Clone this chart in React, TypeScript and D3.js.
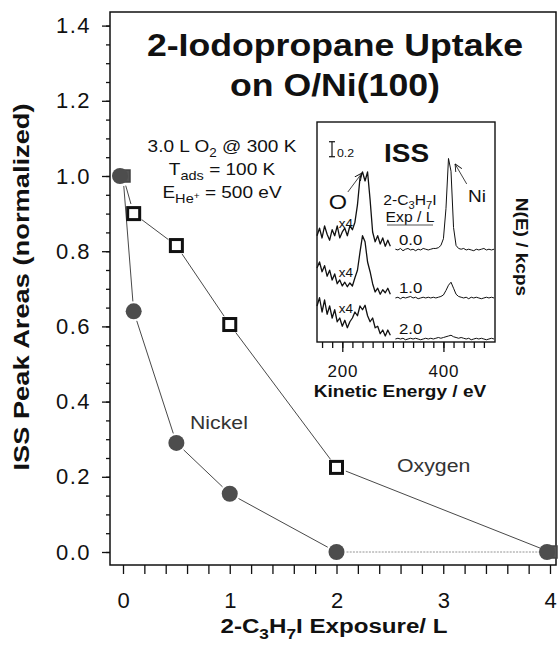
import React, { useEffect, useRef } from "react";
import * as d3 from "d3";

// main panel: normalized ISS peak areas vs 2-C3H7I exposure (L)
const exposure = [0, 0.1, 0.5, 1, 2, 4];
const oxygenArea = [1.0, 0.9, 0.815, 0.605, 0.225, 0.0];
const nickelArea = [1.0, 0.64, 0.29, 0.155, 0.0, 0.0];
const yMajor = [0, 0.2, 0.4, 0.6, 0.8, 1.0, 1.2, 1.4];
const xMajor = [0, 1, 2, 3, 4];

// inset: ISS spectra, N(E) in kcps (low-KE part shown x4)
const expLabels = ["0.0", "1.0", "2.0"];
const traceOffsets = [1.227, 0.587, 0.04];
const keLow = d3.range(150, 300, 5);
const keHigh = d3.range(305, 505, 5);
const lowTraces = [
  [0.19, 0.29, 0.16, 0.32, 0.21, 0.13, 0.27, 0.19, 0.32, 0.16, 0.24, 0.29, 0.19, 0.32, 0.27,
   0.37, 0.6, 0.96, 1.04, 0.92, 1.04, 0.67, 0.24, 0.11, 0.19, 0.08, 0.16, 0.05, 0.13, 0.05],
  [0.4, 0.48, 0.35, 0.43, 0.29, 0.37, 0.24, 0.32, 0.19, 0.24, 0.16, 0.21, 0.15, 0.2, 0.16,
   0.27, 0.37, 0.61, 0.83, 0.75, 0.48, 0.35, 0.19, 0.08, 0.13, 0.05, 0.11, 0.07, 0.13, 0.05],
  [0.44, 0.55, 0.36, 0.52, 0.33, 0.44, 0.28, 0.39, 0.23, 0.28, 0.17, 0.25, 0.15, 0.23, 0.28,
   0.36, 0.31, 0.44, 0.39, 0.45, 0.31, 0.23, 0.28, 0.15, 0.17, 0.07, 0.12, 0.04, 0.12, 0.05],
];
const highTraces = [
  [0.01, 0.0, 0.02, -0.01, 0.01, 0.02, 0.0, 0.01, -0.01, 0.01, 0.0, 0.02, 0.01, 0.0, 0.01,
   0.02, 0.02, 0.03, 0.06, 0.15, 0.55, 1.22, 1.05, 0.3, 0.06, 0.02, 0.01, 0.02, 0.0, 0.01,
   0.0, -0.01, 0.01, 0.0, 0.01, 0.02, 0.0, 0.01, 0.0, 0.01],
  [0.0, 0.01, -0.01, 0.01, 0.0, 0.01, 0.02, 0.0, 0.01, -0.01, 0.0, 0.01, 0.0, 0.01, 0.0,
   0.01, 0.0, 0.01, 0.02, 0.04, 0.1, 0.17, 0.21, 0.13, 0.05, 0.02, 0.01, 0.0, 0.01, -0.01,
   0.01, 0.0, 0.01, 0.0, -0.01, 0.0, 0.01, 0.0, 0.01, 0.0],
  [0.0, 0.01, 0.0, 0.01, -0.01, 0.0, 0.01, 0.0, 0.01, 0.0, -0.01, 0.0, 0.01, 0.0, 0.01,
   0.0, 0.01, 0.02, 0.01, 0.02, 0.03, 0.04, 0.05, 0.03, 0.02, 0.01, 0.02, 0.01, 0.0, 0.01,
   -0.01, 0.0, 0.01, 0.0, 0.01, 0.0, -0.01, 0.0, 0.01, 0.0],
];
const scaleBar = [2.47, 2.67];

const FONT = "'Liberation Sans', Arial, Helvetica, sans-serif";
const INK = "#111";

type Part = string | { t: string; dy?: number; size?: number };

function addText(g: any, x: number, y: number, parts: Part[], o: any) {
  const t = g
    .append("text")
    .attr("transform", `translate(${x},${y}) rotate(${o.rotate || 0}) scale(${o.sx ?? 1.12},1)`)
    .attr("text-anchor", o.anchor || "start")
    .attr("font-family", FONT)
    .attr("font-size", o.size)
    .attr("font-weight", o.weight || "normal")
    .attr("fill", o.fill || INK);
  let shift = 0;
  parts.forEach((p) => {
    const s = typeof p === "string" ? { t: p } : p;
    const dy = s.dy ?? 0;
    t.append("tspan").attr("dy", dy - shift).attr("font-size", s.size ?? o.size).text(s.t);
    shift = dy;
  });
  return t;
}

function gapLine(g: any, a: number[], b: number[], gap: number) {
  const dx = b[0] - a[0];
  const dy = b[1] - a[1];
  const len = Math.hypot(dx, dy);
  const ux = dx / len;
  const uy = dy / len;
  return g
    .append("line")
    .attr("x1", a[0] + ux * gap)
    .attr("y1", a[1] + uy * gap)
    .attr("x2", b[0] - ux * gap)
    .attr("y2", b[1] - uy * gap);
}

export default function App() {
  const svgRef = useRef<SVGSVGElement>(null);

  useEffect(() => {
    const svg = d3.select(svgRef.current);
    svg.selectAll("*").remove();

    const x = d3.scaleLinear().domain([0, 4]).range([123, 550]);
    const y = d3.scaleLinear().domain([0, 1.4]).range([552, 552 - 1.4 * 376]);
    const left = 110;
    const right = 556;
    const top = 12;
    const bottom = 565;

    // frame
    svg
      .append("rect")
      .attr("x", left)
      .attr("y", top)
      .attr("width", right - left)
      .attr("height", bottom - top)
      .attr("fill", "none")
      .attr("stroke", INK)
      .attr("stroke-width", 1.5);

    // y axis
    const yAxis = svg.append("g").attr("transform", `translate(${left},0)`);
    yAxis.call(
      d3.axisLeft(y).tickValues(yMajor).tickSize(8).tickPadding(11).tickFormat(d3.format(".1f")) as any,
    );
    yAxis
      .append("g")
      .call(
        d3
          .axisLeft(y)
          .tickValues(d3.range(0, 29).map((i) => i * 0.05))
          .tickSize(4)
          .tickFormat(() => "") as any,
      );
    yAxis.selectAll(".domain").remove();
    yAxis.selectAll("line").attr("stroke", INK).attr("stroke-width", 1.3);
    yAxis
      .selectAll("text")
      .attr("font-family", FONT)
      .attr("font-size", 22)
      .attr("fill", INK)
      .style("letter-spacing", "1.5px");

    // x axis
    const xAxis = svg.append("g").attr("transform", `translate(0,${bottom})`);
    xAxis.call(
      d3
        .axisBottom(x)
        .tickValues(d3.range(0, 21).map((i) => i * 0.2))
        .tickSize(9)
        .tickPadding(18)
        .tickFormat((d: any) => {
          const k = xMajor.find((v) => Math.abs(v - d) < 1e-6);
          return k === undefined ? "" : String(k);
        }) as any,
    );
    xAxis.selectAll(".domain").remove();
    xAxis.selectAll("line").attr("stroke", INK).attr("stroke-width", 1.3);
    xAxis
      .selectAll("text")
      .attr("font-family", FONT)
      .attr("font-size", 22)
      .attr("fill", INK);

    // axis titles
    addText(svg, 29, 287, ["ISS Peak Areas  (normalized)"], {
      size: 22,
      weight: "bold",
      anchor: "middle",
      rotate: -90,
      sx: 1.24,
    });
    addText(
      svg,
      334,
      633,
      ["2-C", { t: "3", dy: 6, size: 15 }, "H", { t: "7", dy: 6, size: 15 }, "I Exposure/ L"],
      { size: 21, weight: "bold", anchor: "middle", sx: 1.15 },
    );

    // title
    addText(svg, 335, 56, ["2-Iodopropane Uptake"], { size: 31, weight: "bold", anchor: "middle", sx: 1.15 });
    addText(svg, 335, 96, ["on O/Ni(100)"], { size: 31, weight: "bold", anchor: "middle", sx: 1.15 });

    // conditions
    addText(svg, 222, 152, ["3.0 L O", { t: "2", dy: 5, size: 12 }, " @ 300 K"], {
      size: 17,
      anchor: "middle",
    });
    addText(svg, 222, 175, ["T", { t: "ads", dy: 5, size: 13 }, " = 100 K"], {
      size: 17,
      anchor: "middle",
    });
    addText(
      svg,
      222,
      198,
      ["E", { t: "He", dy: 5, size: 13 }, { t: "+", dy: 1, size: 9 }, " = 500 eV"],
      { size: 17, anchor: "middle" },
    );

    // connecting lines
    const lines = svg.append("g").attr("stroke", "#333").attr("stroke-width", 0.9);
    const pts = (vals: number[]) => exposure.map((e, i) => [x(e), y(vals[i])]);
    const niPts = pts(nickelArea);
    const oPts = pts(oxygenArea);
    for (let i = 0; i < exposure.length - 1; i++) {
      const l = gapLine(lines, niPts[i], niPts[i + 1], 10);
      if (nickelArea[i] === nickelArea[i + 1]) {
        l.attr("stroke", "#888").attr("stroke-dasharray", "2,1.2");
      }
      gapLine(lines, oPts[i], oPts[i + 1], 10);
    }

    // markers (overlapping points nudged apart, as in the original)
    const marks = svg.append("g");
    exposure.forEach((e, i) => {
      const same = nickelArea[i] === oxygenArea[i];
      const [ox, oy] = oPts[i];
      marks
        .append("rect")
        .attr("x", ox + (same ? 1 : 0) - 6)
        .attr("y", oy - 6)
        .attr("width", 12)
        .attr("height", 12)
        .attr("fill", same ? "#555" : "#fff")
        .attr("stroke", same ? "#444" : INK)
        .attr("stroke-width", same ? 1.5 : 3);
    });
    exposure.forEach((e, i) => {
      const same = nickelArea[i] === oxygenArea[i];
      const [nx, ny] = niPts[i];
      marks
        .append("circle")
        .attr("cx", nx - (same ? 3 : 0))
        .attr("cy", ny)
        .attr("r", 8)
        .attr("fill", "#4d4d4d");
    });

    addText(svg, 190, 429, ["Nickel"], { size: 19, fill: "#333" });
    addText(svg, 397, 472, ["Oxygen"], { size: 19, fill: "#333" });

    // ---------- inset ----------
    const xi = d3.scaleLinear().domain([150, 500]).range([317, 494]);
    const yi = d3.scaleLinear().domain([0, 2.933]).range([342, 122]);
    const inset = svg.append("g");
    inset
      .append("rect")
      .attr("x", 317)
      .attr("y", 122)
      .attr("width", 178)
      .attr("height", 220)
      .attr("fill", "#fff")
      .attr("stroke", INK)
      .attr("stroke-width", 1.4);

    const ia = inset.append("g").attr("transform", "translate(0,342)");
    ia.call(d3.axisBottom(xi).tickValues([200, 400]).tickSize(10).tickPadding(13) as any);
    ia.append("g").call(
      d3
        .axisBottom(xi)
        .tickValues(d3.range(160, 500, 20))
        .tickSize(6)
        .tickFormat(() => "") as any,
    );
    ia.selectAll(".domain").remove();
    ia.selectAll("line").attr("stroke", INK).attr("stroke-width", 1.3);
    ia.selectAll("text")
      .attr("font-family", FONT)
      .attr("font-size", 17)
      .attr("fill", INK)
      .style("letter-spacing", "0.8px");

    addText(svg, 400, 397, ["Kinetic Energy / eV"], { size: 17, weight: "bold", anchor: "middle" });
    addText(svg, 516, 247, ["N(E) / kcps"], { size: 17, weight: "bold", anchor: "middle", rotate: 90 });

    lowTraces.forEach((vals, k) => {
      const off = traceOffsets[k];
      const lowLine = d3
        .line<number>()
        .x((_, i) => xi(keLow[i]))
        .y((v) => yi(off + v));
      const highLine = d3
        .line<number>()
        .x((_, i) => xi(keHigh[i]))
        .y((v) => yi(off + v));
      inset
        .append("path")
        .attr("d", lowLine(vals))
        .attr("fill", "none")
        .attr("stroke", INK)
        .attr("stroke-width", 1.3)
        .attr("stroke-linejoin", "round");
      inset
        .append("path")
        .attr("d", highLine(highTraces[k]))
        .attr("fill", "none")
        .attr("stroke", INK)
        .attr("stroke-width", 1)
        .attr("stroke-linejoin", "round");
      addText(inset, xi(335), yi(off) - 5, [expLabels[k]], { size: 15, anchor: "middle" });
      addText(inset, xi(207), yi(off) - [22, 21, 26][k], ["x4"], { size: 12, anchor: "middle" });
    });

    // scale bar
    const sb = inset.append("g").attr("stroke", INK).attr("stroke-width", 1.2);
    const sbx = 332;
    sb.append("line").attr("x1", sbx).attr("x2", sbx).attr("y1", yi(scaleBar[0])).attr("y2", yi(scaleBar[1]));
    sb.append("line").attr("x1", sbx - 3).attr("x2", sbx + 3).attr("y1", yi(scaleBar[0])).attr("y2", yi(scaleBar[0]));
    sb.append("line").attr("x1", sbx - 3).attr("x2", sbx + 3).attr("y1", yi(scaleBar[1])).attr("y2", yi(scaleBar[1]));
    addText(inset, 337, yi(scaleBar[0]), ["0.2"], { size: 11 });

    addText(inset, 384, 162, ["ISS"], { size: 25, weight: "bold" });
    addText(
      inset,
      410,
      205,
      ["2-C", { t: "3", dy: 4, size: 10 }, "H", { t: "7", dy: 4, size: 10 }, "I"],
      { size: 14, anchor: "middle" },
    );
    addText(inset, 410, 222, ["Exp / L"], { size: 14, anchor: "middle" });
    inset
      .append("line")
      .attr("x1", 387)
      .attr("x2", 433)
      .attr("y1", 225)
      .attr("y2", 225)
      .attr("stroke", "#555")
      .attr("stroke-width", 1.2);

    // peak labels with arrows
    const defs = svg.append("defs");
    defs
      .append("marker")
      .attr("id", "arr")
      .attr("viewBox", "0 0 8 8")
      .attr("refX", 7.5)
      .attr("refY", 4)
      .attr("markerWidth", 8)
      .attr("markerHeight", 8)
      .attr("markerUnits", "userSpaceOnUse")
      .attr("orient", "auto")
      .append("path")
      .attr("d", "M0,0.5 L7.5,4 L0,7.5")
      .attr("fill", "none")
      .attr("stroke", INK)
      .attr("stroke-width", 0.9);
    const arrows = [
      { from: [211, 2.0], to: [239, 2.253] },
      { from: [446, 2.107], to: [423, 2.373] },
    ];
    arrows.forEach((a) => {
      inset
        .append("line")
        .attr("x1", xi(a.from[0]))
        .attr("y1", yi(a.from[1]))
        .attr("x2", xi(a.to[0]))
        .attr("y2", yi(a.to[1]))
        .attr("stroke", INK)
        .attr("stroke-width", 0.8)
        .attr("marker-end", "url(#arr)");
    });
    addText(inset, 338, 209, ["O"], { size: 21, anchor: "middle" });
    addText(inset, 477, 202, ["Ni"], { size: 17, anchor: "middle" });
  }, []);

  return (
    <svg
      ref={svgRef}
      width={558}
      height={651}
      style={{ position: "absolute", left: 0, top: 0, background: "#fff" }}
    />
  );
}
